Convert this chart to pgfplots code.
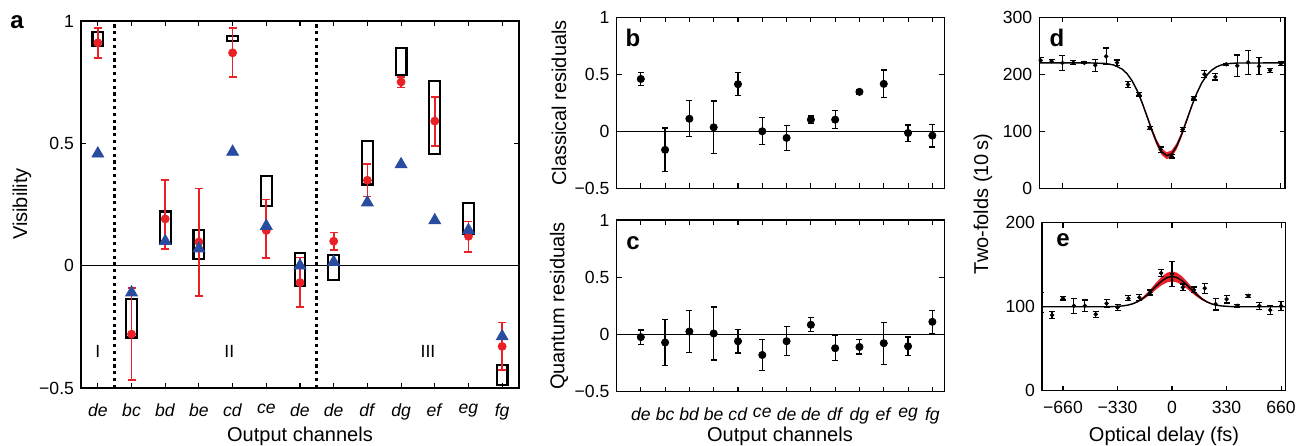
\documentclass[border=0pt]{standalone}
\usepackage{fontspec}
\setmainfont{Liberation Sans}
\usepackage{pgfplots}
\pgfplotsset{compat=1.18}

\definecolor{dotred}{RGB}{234,32,39}
\definecolor{triblue}{RGB}{42,76,160}

\newcommand{\tickfont}{\fontsize{8.8}{10}\selectfont}
\newcommand{\labfont}{\fontsize{10}{12}\selectfont}
\newcommand{\panfont}{\fontsize{12}{14}\selectfont\bfseries}

\pgfplotsset{
  panel/.style={
    scale only axis, anchor=south west,
    axis line style={line width=0.65pt},
    tick style={line width=0.55pt, black},
    major tick length=2.6pt,
    ticklabel style={font=\tickfont},
    /pgf/number format/assume math mode=true,
  },
  errdot/.style={
    only marks, mark=*, mark size=#1, black,
    mark options={solid, fill=black},
    error bars/.cd, y dir=both, y explicit,
    error bar style={line width=0.6pt, black},
    error mark options={rotate=90, line width=0.6pt, mark size=1.5pt, black},
  },
}

\begin{document}
\begin{tikzpicture}
\useasboundingbox (0,0) rectangle (653.5pt,222.5pt);

% ---------------- panel a ----------------
\begin{axis}[panel, at={(40.5pt,28.5pt)}, width=219pt, height=183.5pt,
  xmin=0.5, xmax=13.5, ymin=-0.5, ymax=1,
  xtick={1,...,13},
  xticklabels={\textit{de},\textit{bc},\textit{bd},\textit{be},\textit{cd},\textit{ce},\textit{de},\textit{de},\textit{df},\textit{dg},\textit{ef},\textit{eg},\textit{fg}},
  xticklabel shift=4.5pt,
  ytick={-0.5,0,0.5,1}, yticklabels={−0.5,0,0.5,1},
  unbounded coords=jump]
\addplot[black, line width=0.6pt] coordinates {(0.5,0) (13.5,0)};
\addplot[black, line width=1.6pt, dash pattern=on 1.6pt off 1.8pt] coordinates {(1.5,-0.5) (1.5,1)};
\addplot[black, line width=1.6pt, dash pattern=on 1.6pt off 1.8pt] coordinates {(7.5,-0.5) (7.5,1)};
% boxes
\addplot[black, line width=1.1pt, line cap=rect] table[row sep=\\] {
x y\\
0.84 0.899\\ 1.16 0.899\\ 1.16 0.954\\ 0.84 0.954\\ 0.84 0.899\\ nan nan\\
1.84 -0.294\\ 2.16 -0.294\\ 2.16 -0.135\\ 1.84 -0.135\\ 1.84 -0.294\\ nan nan\\
2.84 0.090\\ 3.16 0.090\\ 3.16 0.221\\ 2.84 0.221\\ 2.84 0.090\\ nan nan\\
3.84 0.027\\ 4.16 0.027\\ 4.16 0.146\\ 3.84 0.146\\ 3.84 0.027\\ nan nan\\
4.84 0.918\\ 5.16 0.918\\ 5.16 0.939\\ 4.84 0.939\\ 4.84 0.918\\ nan nan\\
5.84 0.243\\ 6.16 0.243\\ 6.16 0.367\\ 5.84 0.367\\ 5.84 0.243\\ nan nan\\
6.84 -0.084\\ 7.16 -0.084\\ 7.16 0.052\\ 6.84 0.052\\ 6.84 -0.084\\ nan nan\\
7.84 -0.060\\ 8.16 -0.060\\ 8.16 0.042\\ 7.84 0.042\\ 7.84 -0.060\\ nan nan\\
8.84 0.332\\ 9.16 0.332\\ 9.16 0.511\\ 8.84 0.511\\ 8.84 0.332\\ nan nan\\
9.84 0.778\\ 10.16 0.778\\ 10.16 0.890\\ 9.84 0.890\\ 9.84 0.778\\ nan nan\\
10.84 0.455\\ 11.16 0.455\\ 11.16 0.755\\ 10.84 0.755\\ 10.84 0.455\\ nan nan\\
11.84 0.131\\ 12.16 0.131\\ 12.16 0.256\\ 11.84 0.256\\ 11.84 0.131\\ nan nan\\
12.84 -0.489\\ 13.16 -0.489\\ 13.16 -0.407\\ 12.84 -0.407\\ 12.84 -0.489\\
};
% measured visibilities
\addplot[only marks, mark=*, mark size=2pt, dotred, mark options={solid, fill=dotred},
  error bars/.cd, y dir=both, y explicit,
  error bar style={line width=0.85pt, dotred},
  error mark options={rotate=90, line width=0.85pt, mark size=2pt, dotred}]
  table[x=x, y=y, y error plus=ep, y error minus=em] {
x y ep em
1 0.911 0.059 0.061
2 -0.280 0.190 0.188
3 0.191 0.158 0.123
4 0.097 0.218 0.221
5 0.870 0.100 0.099
6 0.144 0.126 0.114
7 -0.069 0.102 0.100
8 0.100 0.035 0.035
9 0.349 0.067 0.066
10 0.751 0.020 0.023
11 0.591 0.098 0.102
12 0.120 0.061 0.064
13 -0.330 0.098 0.095
};
% classical predictions
\addplot[only marks, mark=triangle*, mark size=3.4pt, triblue, mark options={solid, fill=triblue}] table {
x y
1 0.458
2 -0.110
3 0.100
4 0.070
5 0.465
6 0.162
7 0.000
8 0.015
9 0.258
10 0.414
11 0.185
12 0.145
13 -0.289
};
\node[font=\tickfont] at (axis cs:1,-0.35) {I};
\node[font=\tickfont] at (axis cs:4.9,-0.35) {II};
\node[font=\tickfont] at (axis cs:10.8,-0.35) {III};
\end{axis}

% ---------------- panel b ----------------
\begin{axis}[panel, at={(308.25pt,128.35pt)}, width=164pt, height=85.5pt,
  xmin=0, xmax=13.5, ymin=-0.5, ymax=1,
  xtick={1,...,13}, xticklabels={},
  ytick={-0.5,0,0.5,1}, yticklabels={−0.5,0,0.5,1}]
\addplot[black, line width=0.6pt] coordinates {(0,0) (13.5,0)};
\addplot[errdot=1.8pt] table[x=x, y=y, y error=e] {
x y e
1 0.459 0.058
2 -0.163 0.192
3 0.110 0.158
4 0.035 0.230
5 0.413 0.100
6 0.000 0.119
7 -0.058 0.110
8 0.102 0.032
9 0.102 0.080
10 0.346 0.023
11 0.416 0.121
12 -0.015 0.071
13 -0.038 0.100
};
\end{axis}

% ---------------- panel c ----------------
\begin{axis}[panel, at={(308.25pt,26.65pt)}, width=164pt, height=85.8pt,
  xmin=0, xmax=13.5, ymin=-0.5, ymax=1,
  xtick={1,...,13},
  xticklabels={\textit{de},\textit{bc},\textit{bd},\textit{be},\textit{cd},\textit{ce},\textit{de},\textit{de},\textit{df},\textit{dg},\textit{ef},\textit{eg},\textit{fg}},
  xticklabel shift=4.5pt,
  ytick={-0.5,0,0.5,1}, yticklabels={−0.5,0,0.5,1}]
\addplot[black, line width=0.6pt] coordinates {(0,0) (13.5,0)};
\addplot[errdot=1.8pt] table[x=x, y=y, y error=e] {
x y e
1 -0.023 0.063
2 -0.070 0.204
3 0.026 0.182
4 0.009 0.232
5 -0.059 0.102
6 -0.179 0.135
7 -0.059 0.126
8 0.085 0.062
9 -0.120 0.110
10 -0.109 0.062
11 -0.076 0.184
12 -0.103 0.082
13 0.111 0.101
};
\end{axis}

% ---------------- panel d ----------------
\begin{axis}[panel, at={(519.65pt,128.35pt)}, width=122.85pt, height=85.5pt,
  xmin=-800, xmax=685, ymin=0, ymax=300,
  xtick={-660,-330,0,330,660}, xticklabels={},
  ytick={0,100,200,300}]
\addplot[fill=dotred, draw=none] table {
x y
-400 219.0
-350 216.5
-300 209.6
-270 201.8
-240 190.2
-210 174.1
-180 153.7
-150 130.4
-120 106.5
-90 85.1
-60 69.7
-30 63.2
0 66.5
30 79.2
60 98.9
90 122.4
120 146.2
150 167.7
180 185.3
210 198.4
240 207.4
270 213.1
300 216.5
350 219.0
350 218.9
300 216.2
270 212.6
240 206.4
210 196.7
180 182.6
150 163.7
120 140.6
90 114.9
60 89.6
30 68.4
0 54.7
-30 51.2
-60 58.3
-90 74.8
-120 97.8
-150 123.6
-180 148.7
-210 170.6
-240 187.9
-270 200.4
-300 208.8
-350 216.2
-400 218.9
};
\addplot[errdot=0.9pt] table[x=x, y=y, y error=e] {
x y e
-792 224.6 4.5
-726 223.0 3
-660 220.0 13
-594 220.5 4
-528 220.0 1.5
-462 216.0 10.5
-396 231.5 14.5
-330 220.5 4.5
-264 182.0 5
-198 165.0 3
-132 105.6 3
-66 68.0 4.5
0 56.0 3
66 103.0 3
132 158.0 3
198 200.0 6
264 195.5 5.5
330 217.6 1.5
396 215.0 19
462 221.0 21
528 214.0 15
594 207.0 3.5
660 218.8 3.5
};
\addplot[black, line width=0.7pt] table {
x y
-800 220
-500 220
-400 219.0
-350 216.3
-300 209.2
-270 201.1
-240 189.0
-210 172.3
-180 151.2
-150 127.0
-120 102.1
-90 80.0
-60 64.0
-30 57.2
0 60.6
30 73.7
60 94.2
90 118.6
120 143.4
150 165.7
180 184.0
210 197.6
240 206.9
270 212.8
300 216.3
350 219.0
400 219.8
700 220
};
\end{axis}

% ---------------- panel e ----------------
\begin{axis}[panel, at={(521pt,27.15pt)}, width=121.85pt, height=84pt,
  xmin=-787, xmax=688, ymin=0, ymax=200,
  xtick={-660,-330,0,330,660}, xticklabels={−660,−330,0,330,660},
  xticklabel shift=1.5pt,
  ytick={0,100,200}]
\addplot[fill=dotred, draw=none] table {
x y
-400 100.0
-350 100.3
-300 101.0
-270 102.1
-240 103.9
-210 106.8
-180 111.0
-150 116.6
-120 123.2
-90 130.1
-60 136.2
-30 140.5
0 142.0
30 140.5
60 136.2
90 130.1
120 123.2
150 116.6
180 111.0
210 106.8
240 103.9
270 102.1
300 101.0
350 100.3
400 100.0
400 100.0
350 100.2
300 100.7
270 101.5
240 102.8
210 104.9
180 107.9
150 111.8
120 116.5
90 121.5
60 125.9
30 128.9
0 130.0
-30 128.9
-60 125.9
-90 121.5
-120 116.5
-150 111.8
-180 107.9
-210 104.9
-240 102.8
-270 101.5
-300 100.7
-350 100.2
-400 100.0
};
\addplot[errdot=0.9pt] table[x=x, y=y, y error=e] {
x y e
-792 105 12
-726 90 4.5
-660 110 2
-594 101 9
-528 101 7
-462 91 3.5
-396 104 4.5
-330 99 3.5
-264 110 3
-198 111 4
-132 117 3
-66 140 4
0 139 14.5
66 123 4
132 120 3.5
198 122 6
264 103 7
330 109 4.5
396 101 1.5
462 113 2
528 101 4
594 96 5.5
660 101 5.5
};
\addplot[black, line width=0.7pt] table {
x y
-800 100
-400 100
-350 100.2
-300 100.9
-270 101.8
-240 103.3
-210 105.8
-180 109.4
-150 114.2
-120 119.9
-90 125.8
-60 131.0
-30 134.7
0 136.0
30 134.7
60 131.0
90 125.8
120 119.9
150 114.2
180 109.4
210 105.8
240 103.3
270 101.8
300 100.9
350 100.2
400 100
700 100
};
\end{axis}

% ---------------- labels ----------------
\node[font=\labfont, rotate=90] at (11pt,120.5pt) {Visibility};
\node[font=\labfont] at (150pt,4.5pt) {Output channels};
\node[font=\labfont, rotate=90] at (279.5pt,171pt) {Classical residuals};
\node[font=\labfont, rotate=90] at (279.5pt,69.5pt) {Quantum residuals};
\node[font=\labfont] at (390pt,4.5pt) {Output channels};
\node[font=\labfont, rotate=90] at (491.5pt,120.5pt) {Two-folds (10\,s)};
\node[font=\labfont] at (582pt,4.5pt) {Optical delay (fs)};
\node[font=\panfont] at (8.5pt,211.5pt) {a};
\node[font=\panfont] at (316.5pt,203.5pt) {b};
\node[font=\panfont] at (316.5pt,101pt) {c};
\node[font=\panfont] at (528.5pt,203.5pt) {d};
\node[font=\panfont] at (531.5pt,102.5pt) {e};
\end{tikzpicture}
\end{document}
